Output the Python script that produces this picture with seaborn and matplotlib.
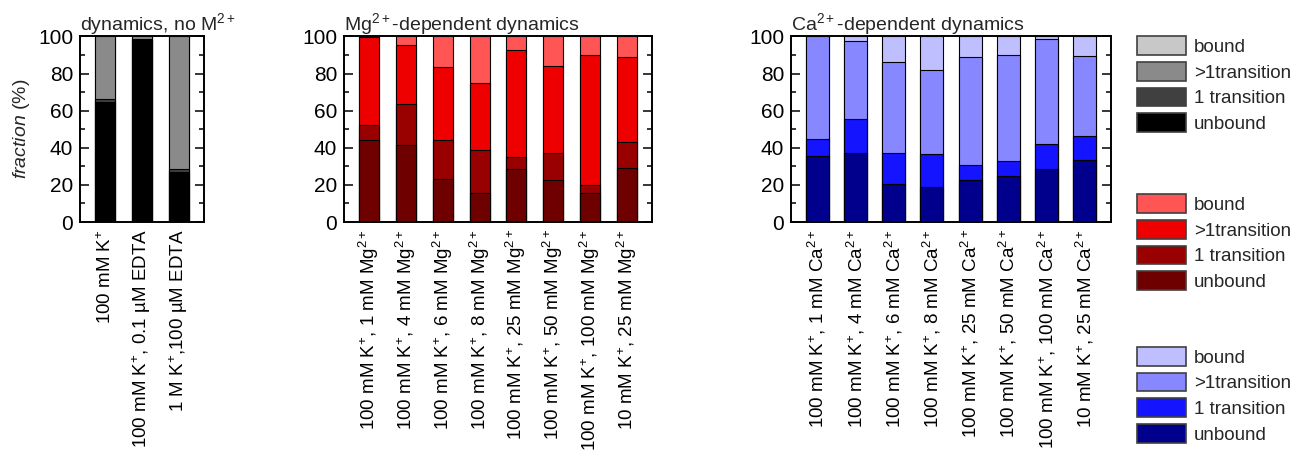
import numpy as np
import matplotlib
matplotlib.use("Agg")
import matplotlib.pyplot as plt
from matplotlib.patches import Patch
from matplotlib.ticker import MultipleLocator
import seaborn as sns

# ---- data (percent of molecules per category, bottom -> top) ----
segment_names = ["unbound", "1 transition", ">1transition", "bound"]

ctrl_labels = [
    "100 mM K$^{+}$",
    "100 mM K$^{+}$, 0.1 µM EDTA",
    "1 M K$^{+}$,100 µM EDTA",
]
ctrl_unbound = [64.5, 98.3, 27.0]
ctrl_one = [1.8, 0.2, 1.8]
ctrl_multi = [33.7, 1.5, 71.2]
ctrl_bound = [0.0, 0.0, 0.0]

mg_labels = [
    "100 mM K$^{+}$, 1 mM Mg$^{2+}$",
    "100 mM K$^{+}$, 4 mM Mg$^{2+}$",
    "100 mM K$^{+}$, 6 mM Mg$^{2+}$",
    "100 mM K$^{+}$, 8 mM Mg$^{2+}$",
    "100 mM K$^{+}$, 25 mM Mg$^{2+}$",
    "100 mM K$^{+}$, 50 mM Mg$^{2+}$",
    "100 mM K$^{+}$, 100 mM Mg$^{2+}$",
    "10 mM K$^{+}$, 25 mM Mg$^{2+}$",
]
mg_unbound = [44.2, 41.5, 23.4, 15.4, 28.4, 22.5, 15.9, 29.3]
mg_one = [8.0, 22.0, 20.6, 23.2, 6.7, 14.5, 4.0, 14.0]
mg_multi = [47.3, 31.7, 39.5, 36.5, 57.7, 47.1, 69.9, 45.6]
mg_bound = [0.5, 4.8, 16.5, 24.9, 7.2, 15.9, 10.2, 11.1]

ca_labels = [
    "100 mM K$^{+}$, 1 mM Ca$^{2+}$",
    "100 mM K$^{+}$, 4 mM Ca$^{2+}$",
    "100 mM K$^{+}$, 6 mM Ca$^{2+}$",
    "100 mM K$^{+}$, 8 mM Ca$^{2+}$",
    "100 mM K$^{+}$, 25 mM Ca$^{2+}$",
    "100 mM K$^{+}$, 50 mM Ca$^{2+}$",
    "100 mM K$^{+}$, 100 mM Ca$^{2+}$",
    "10 mM K$^{+}$, 25 mM Ca$^{2+}$",
]
ca_unbound = [35.8, 37.4, 20.6, 18.8, 22.7, 24.7, 28.6, 33.5]
ca_one = [8.7, 17.9, 16.4, 17.7, 8.1, 8.2, 13.3, 12.8]
ca_multi = [55.5, 42.2, 49.2, 45.6, 58.1, 56.9, 56.8, 43.0]
ca_bound = [0.0, 2.5, 13.8, 17.9, 11.1, 10.2, 1.3, 10.7]

gray_colors = ["#000000", "#404040", "#8a8a8a", "#c8c8c8"]
red_colors = ["#6e0000", "#990000", "#ee0000", "#ff5555"]
blue_colors = ["#00008c", "#1414ff", "#8787ff", "#bfbfff"]

# ---- style ----
sns.set_theme(style="ticks")
plt.rcParams["font.family"] = ["Liberation Sans", "DejaVu Sans"]
plt.rcParams.update({
    "mathtext.fontset": "custom",
    "mathtext.rm": "Liberation Sans",
    "mathtext.it": "Liberation Sans:italic",
    "mathtext.bf": "Liberation Sans:bold",
    "font.size": 12,
    "axes.linewidth": 1.4,
    "axes.edgecolor": "black",
})

W, H = 1308, 473
fig = plt.figure(figsize=(W / 100, H / 100), dpi=100)
y_top, y_bot = 36.5, 222.0


def make_axes(x0, x1):
    return fig.add_axes([x0 / W, 1 - y_bot / H, (x1 - x0) / W, (y_bot - y_top) / H])


def stacked(ax, labels, parts, colors, width, title):
    cum = np.cumsum(np.array(parts, dtype=float), axis=0)
    for level in range(len(parts) - 1, -1, -1):
        sns.barplot(x=labels, y=cum[level], ax=ax, color=colors[level],
                    width=width, saturation=1, edgecolor="black",
                    linewidth=0.8, zorder=2)
    n = len(labels)
    ax.set_xlim(-0.69, n - 1 + 0.69)
    ax.set_ylim(0, 100)
    ax.yaxis.set_major_locator(MultipleLocator(20))
    ax.yaxis.set_minor_locator(MultipleLocator(10))
    ax.tick_params(axis="both", which="both", direction="in",
                   top=True, right=True, colors="black")
    ax.tick_params(axis="both", which="major", length=6.5, width=1.1)
    ax.tick_params(axis="y", which="minor", length=3.5, width=1.1)
    ax.tick_params(axis="x", which="minor", length=0)
    ax.tick_params(axis="y", labelsize=15, pad=5)
    ax.tick_params(axis="x", labelsize=13.5, pad=5)
    ax.set_xticks(range(n))
    ax.set_xticklabels(labels, rotation=90, ha="center", va="top")
    ax.set_xlabel("")
    ax.set_ylabel("")
    ax.set_title(title, loc="left", fontsize=14, pad=3)
    for s in ax.spines.values():
        s.set_linewidth(1.4)
        s.set_zorder(5)


ax1 = make_axes(80, 204)
stacked(ax1, ctrl_labels, [ctrl_unbound, ctrl_one, ctrl_multi, ctrl_bound],
        gray_colors, 0.55, "dynamics, no M$^{2+}$")
ax1.set_ylabel(r"$\mathit{fraction}$ (%)", fontsize=14, labelpad=4)

ax2 = make_axes(344, 652)
stacked(ax2, mg_labels, [mg_unbound, mg_one, mg_multi, mg_bound],
        red_colors, 0.55, "Mg$^{2+}$-dependent dynamics")

ax3 = make_axes(791, 1111)
stacked(ax3, ca_labels, [ca_unbound, ca_one, ca_multi, ca_bound],
        blue_colors, 0.6, "Ca$^{2+}$-dependent dynamics")

# ---- legends, one per colour family ----
for colors, top in [(gray_colors, 36.5), (red_colors, 194.5), (blue_colors, 347.0)]:
    handles = [Patch(facecolor=colors[i], edgecolor="#404040", linewidth=1.2,
                     label=segment_names[i]) for i in range(3, -1, -1)]
    fig.legend(handles=handles, loc="upper left",
               bbox_to_anchor=(1137 / W, 1 - top / H), frameon=False,
               handlelength=2.6, handleheight=1.15, labelspacing=0.32,
               handletextpad=0.45, borderpad=0, borderaxespad=0, fontsize=13.5)

fig.savefig("out.png", dpi=100)
